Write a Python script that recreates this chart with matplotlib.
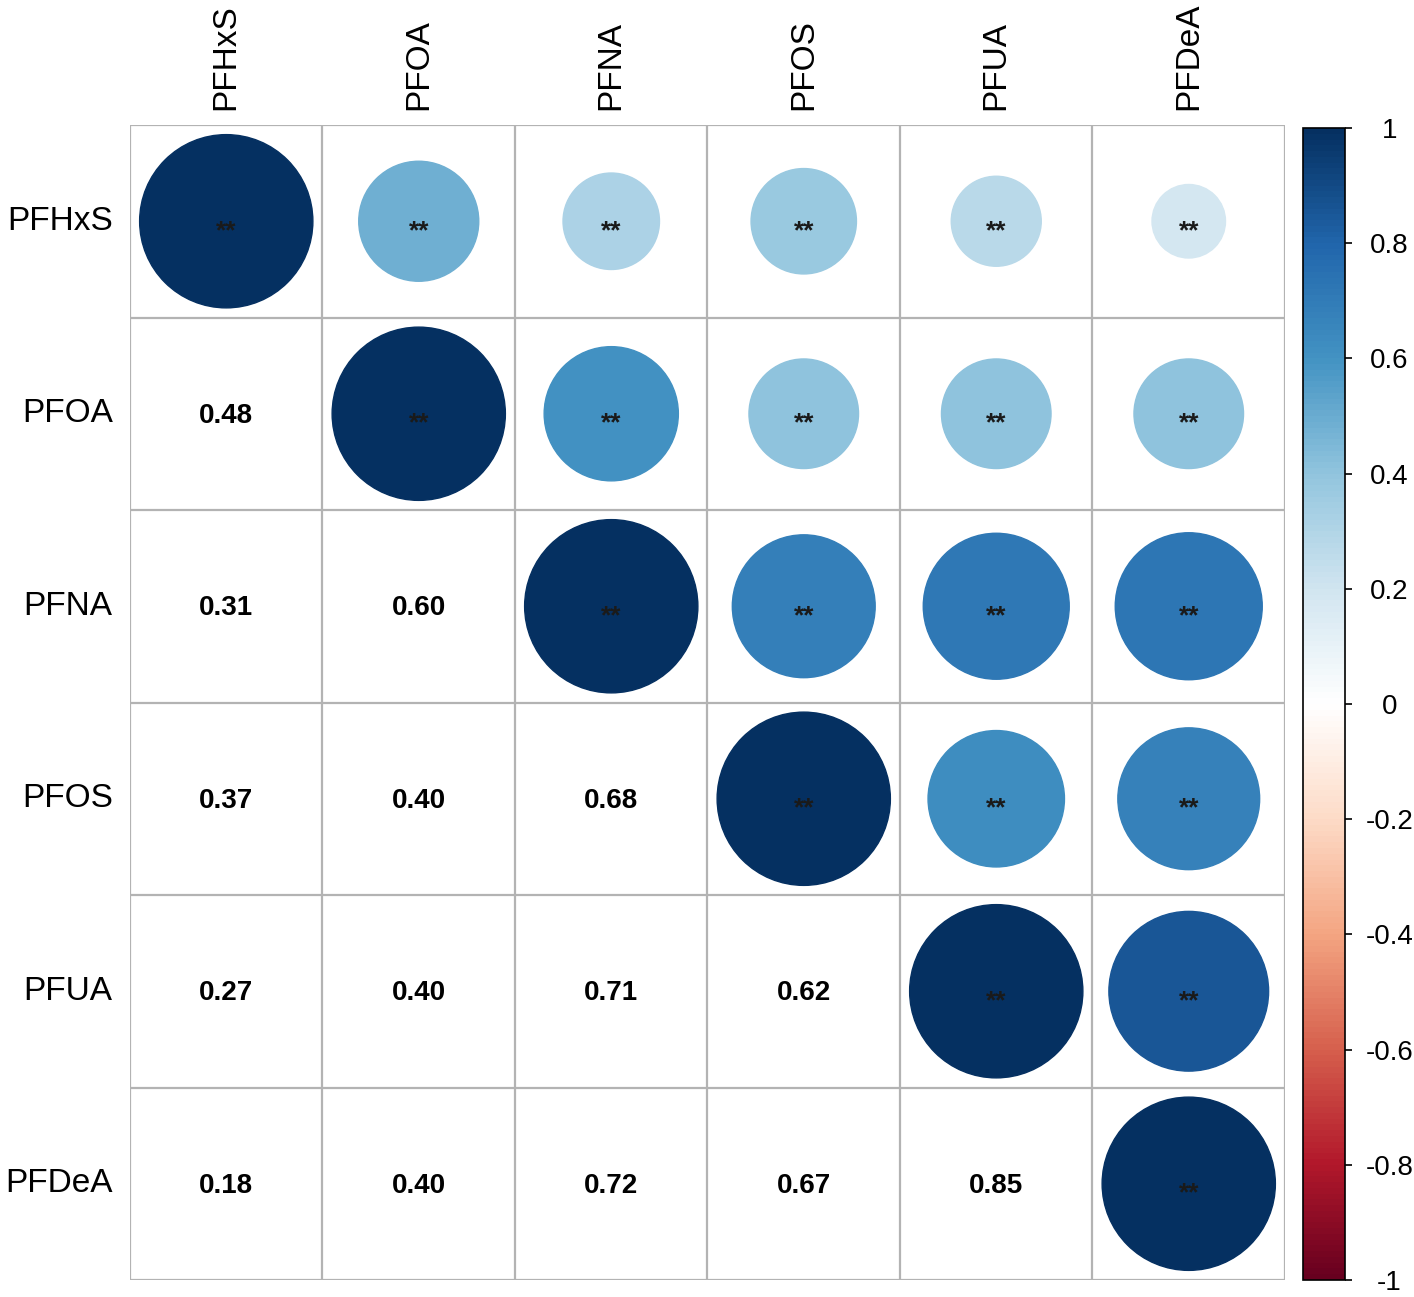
"""Correlation plot of PFAS compounds (corrplot-style, mixed upper/lower)."""

import matplotlib

matplotlib.use("Agg")
import matplotlib.pyplot as plt
import numpy as np
from matplotlib.cm import ScalarMappable
from matplotlib.colors import LinearSegmentedColormap, Normalize
from matplotlib.patches import Circle

plt.rcParams["font.family"] = ["Liberation Sans", "DejaVu Sans"]

compounds = ["PFHxS", "PFOA", "PFNA", "PFOS", "PFUA", "PFDeA"]

# lower triangle, row by row (row i holds correlations with columns 0..i-1)
lower_values = [
    [],
    [0.48],
    [0.31, 0.60],
    [0.37, 0.40, 0.68],
    [0.27, 0.40, 0.71, 0.62],
    [0.18, 0.40, 0.72, 0.67, 0.85],
]
stars = "**"

cbar_ticks = [1, 0.8, 0.6, 0.4, 0.2, 0, -0.2, -0.4, -0.6, -0.8, -1]
cbar_labels = ["1", "0.8", "0.6", "0.4", "0.2", "0", "-0.2", "-0.4", "-0.6", "-0.8", "-1"]

# RColorBrewer RdBu as used by corrplot COL2("RdBu")
RDBU = ["#67001F", "#B2182B", "#D6604D", "#F4A582", "#FDDBC7", "#FFFFFF",
        "#D1E5F0", "#92C5DE", "#4393C3", "#2166AC", "#053061"]
cmap = LinearSegmentedColormap.from_list("rdbu", RDBU, N=200)
norm = Normalize(-1, 1)
GRID = "#b3b3b3"

n = len(compounds)
corr = np.eye(n)
for i, row in enumerate(lower_values):
    for j, v in enumerate(row):
        corr[i, j] = v
        corr[j, i] = v

W, H = 1414, 1297
fig = plt.figure(figsize=(W / 100, H / 100), dpi=100)
ax = fig.add_axes([130 / W, (H - 1280) / H, 1155 / W, 1155 / H])
ax.set_xlim(0, n)
ax.set_ylim(n, 0)
ax.axis("off")

for k in range(n + 1):
    ax.plot([k, k], [0, n], color=GRID, lw=1.6, zorder=1, solid_capstyle="butt")
    ax.plot([0, n], [k, k], color=GRID, lw=1.6, zorder=1, solid_capstyle="butt")

for i in range(n):
    for j in range(n):
        cx, cy = j + 0.5, i + 0.5
        r = corr[i, j]
        if j >= i:
            color = cmap(norm(r))
            ax.add_patch(Circle((cx, cy), 0.45 * np.sqrt(abs(r)),
                                facecolor=color, edgecolor=color, lw=1, zorder=2))
            ax.text(cx, cy + 0.05, stars, ha="center", va="center",
                    fontsize=19, fontweight="bold", color="#1a1a1a", zorder=3)
        else:
            ax.text(cx, cy + 0.01, f"{r:.2f}", ha="center", va="center",
                    fontsize=20, fontweight="bold", color="black", zorder=3)

for k, name in enumerate(compounds):
    ax.text(-0.09, k + 0.5, name, ha="right", va="center", fontsize=24,
            color="black")
    ax.text(k + 0.5, -0.08, name, ha="center", va="bottom", rotation=90,
            fontsize=24, color="black")

cax = fig.add_axes([1303 / W, (H - 1280) / H, 42 / W, 1152 / H])
cb = fig.colorbar(ScalarMappable(norm=norm, cmap=cmap), cax=cax, ticks=cbar_ticks)
cb.outline.set_edgecolor("black")
cb.outline.set_linewidth(1.2)
cb.set_ticklabels(cbar_labels)
cax.tick_params(axis="y", length=5, width=1.2, direction="out", pad=27, labelsize=20)
for lbl in cax.get_yticklabels():
    lbl.set_horizontalalignment("center")

fig.savefig("out.png", dpi=100)
